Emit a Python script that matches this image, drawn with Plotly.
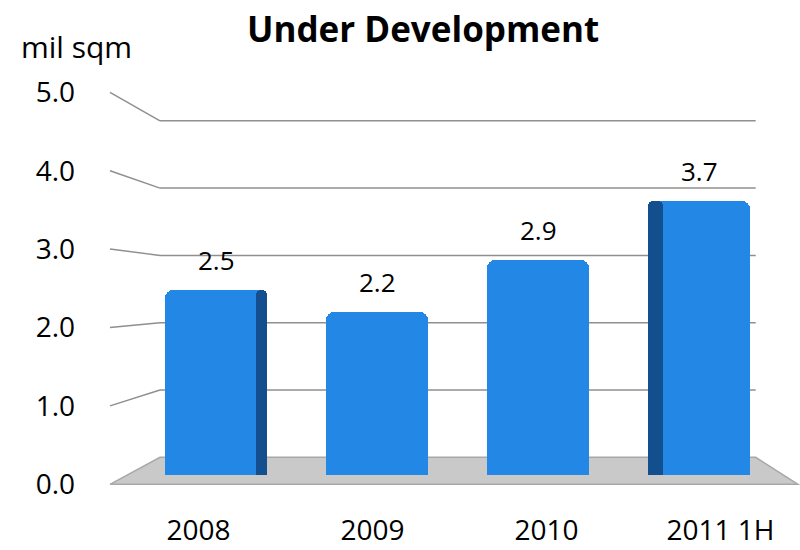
import plotly.graph_objects as go

# ---- data ----
categories = ["2008", "2009", "2010", "2011 1H"]
values = [2.5, 2.2, 2.9, 3.7]
value_labels = ["2.5", "2.2", "2.9", "3.7"]
tick_values = [0, 1, 2, 3, 4, 5]
tick_labels = ["0.0", "1.0", "2.0", "3.0", "4.0", "5.0"]
grid_values = [1, 2, 3, 4, 5]

# ---- layout geometry (pixels, 800x550 canvas) ----
W, H = 800, 550
ML, MR, MT, MB = 100, 0, 60, 50
PW, PH = W - ML - MR, H - MT - MB
PB = H - MB  # pixel y of plot-area bottom

def yrange(zero_px, ppu):
    lo = -(PB - zero_px) / ppu
    return [lo, lo + PH / ppu]

def xrange_(first_px, ppu):
    lo = -(first_px - ML) / ppu
    return [lo, lo + PW / ppu]

LEFT = dict(zero=484.3, ppu=78.4)   # front (label) scale
BACK = dict(zero=457.3, ppu=67.3)   # back-wall scale
BARS = dict(zero=475.0, ppu=74.0)   # bar front-face scale

def px_y(axis, v):
    return axis["zero"] - v * axis["ppu"]

def paper_x(px):
    return (px - ML) / PW

def paper_y(py):
    return (PB - py) / PH

WALL_L, WALL_R, FRONT_L, FRONT_R = 160, 755.7, 110, 798

BLUE = "#2387e6"
DARK = "#134f8e"
GRID = "#8f8f8f"
FONT = "Open Sans"

idx = list(range(len(categories)))
fig = go.Figure()

# main bar bodies (x / y = bar front-face scale)
fig.add_trace(go.Bar(
    x=idx, y=values, width=0.635,
    marker=dict(color=BLUE, line=dict(width=0), cornerradius=8),
    xaxis="x", yaxis="y", showlegend=False, hoverinfo="skip"))

# darker side faces (perspective)
fig.add_trace(go.Bar(
    x=idx, y=values, width=[0.07, 0.01, 0.01, 0.095], offset=[0.247, 0, 0, -0.317],
    marker=dict(color=[DARK, "rgba(0,0,0,0)", "rgba(0,0,0,0)", DARK], line=dict(width=0),
                cornerradius=5),
    xaxis="x", yaxis="y", showlegend=False, hoverinfo="skip"))

# invisible trace to hold the visible front axes (category labels, tick labels)
fig.add_trace(go.Scatter(
    x=categories, y=[0] * len(categories), mode="markers", marker=dict(opacity=0),
    xaxis="x2", yaxis="y2", showlegend=False, hoverinfo="skip"))

shapes = []
# floor
fl = [(FRONT_L, px_y(LEFT, 0)), (WALL_L, px_y(BACK, 0)),
      (WALL_R, px_y(BACK, 0)), (FRONT_R, px_y(LEFT, 0))]
path = "M " + " L ".join(f"{paper_x(x):.5f},{paper_y(y):.5f}" for x, y in fl) + " Z"
shapes.append(dict(type="path", path=path, xref="paper", yref="paper",
                   fillcolor="#c9c9c9", line=dict(color="#a8a8a8", width=1.5), layer="below"))
# gridlines: slanted side-wall segment + back-wall line
for v in grid_values:
    shapes.append(dict(type="line", xref="paper", yref="paper",
                       x0=paper_x(FRONT_L), y0=paper_y(px_y(LEFT, v)),
                       x1=paper_x(WALL_L), y1=paper_y(px_y(BACK, v)),
                       line=dict(color=GRID, width=1.5), layer="below"))
    shapes.append(dict(type="line", xref="paper", yref="y3",
                       x0=paper_x(WALL_L), x1=paper_x(WALL_R), y0=v, y1=v,
                       line=dict(color=GRID, width=1.5), layer="below"))

annotations = []
for i, (v, t) in enumerate(zip(values, value_labels)):
    annotations.append(dict(x=i, y=v, xref="x", yref="y", text=t, showarrow=False,
                            yshift=30, font=dict(family=FONT, size=26, color="#000")))
annotations.append(dict(x=paper_x(76), y=paper_y(46), xref="paper", yref="paper",
                        xanchor="center", yanchor="middle", text="mil sqm", showarrow=False,
                        font=dict(family=FONT, size=30, color="#000")))
annotations.append(dict(x=paper_x(423), y=paper_y(29), xref="paper", yref="paper",
                        xanchor="center", yanchor="middle", text="<b>Under Development</b>",
                        showarrow=False, font=dict(family=FONT, size=35, color="#000")))

fig.update_layout(
    width=W, height=H, margin=dict(l=ML, r=MR, t=MT, b=MB),
    paper_bgcolor="white", plot_bgcolor="white",
    shapes=shapes, annotations=annotations, bargap=0, barmode="overlay",
    xaxis=dict(range=xrange_(216, 161), showticklabels=False, showgrid=False,
               zeroline=False, showline=False, ticks=""),
    yaxis=dict(range=yrange(BARS["zero"], BARS["ppu"]), showticklabels=False,
               showgrid=False, zeroline=False, showline=False, ticks=""),
    xaxis2=dict(overlaying="x", anchor="y2", side="bottom", type="category",
                range=xrange_(198.5, 174), showgrid=False, zeroline=False, showline=False,
                ticks="", ticklabelstandoff=11,
                tickfont=dict(family=FONT, size=28, color="#000")),
    yaxis2=dict(overlaying="y", anchor="x2", side="left",
                range=yrange(LEFT["zero"], LEFT["ppu"]), tickvals=tick_values,
                ticktext=tick_labels, showgrid=False, zeroline=False, showline=False,
                ticks="", ticklabelstandoff=24,
                tickfont=dict(family=FONT, size=28, color="#000")),
    yaxis3=dict(range=yrange(BACK["zero"], BACK["ppu"]), overlaying="y", anchor="x",
                showticklabels=False, showgrid=False, zeroline=False, showline=False, ticks=""),
)

fig.write_html("out.html")
